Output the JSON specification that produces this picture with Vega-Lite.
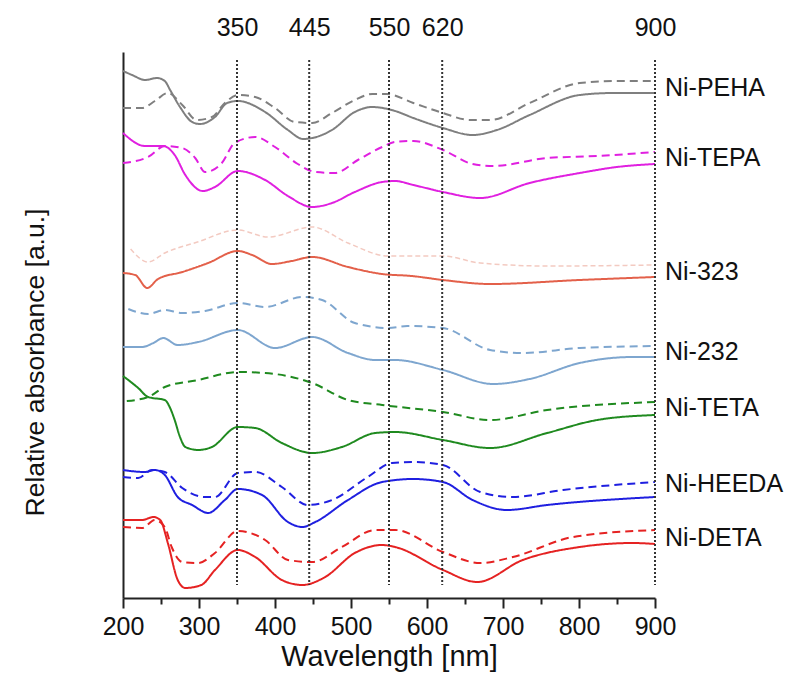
{
"$schema": "https://vega.github.io/schema/vega-lite/v6.json",
"width": 532, "height": 546,
"autosize": {"type": "none"},
"padding": {"left": 123, "top": 52, "right": 144, "bottom": 82},
"background": "white",
"config": {"view": {"stroke": null}, "font": "Liberation Sans"},
"datasets": {
"spectra": [
{"s":"Ni-PEHA","t":"solid","nm":200,"a":5.27},{"s":"Ni-PEHA","t":"solid","nm":212,"a":5.23},{"s":"Ni-PEHA","t":"solid","nm":229,"a":5.18},{"s":"Ni-PEHA","t":"solid","nm":245,"a":5.20},{"s":"Ni-PEHA","t":"solid","nm":255,"a":5.17},{"s":"Ni-PEHA","t":"solid","nm":262,"a":5.08},{"s":"Ni-PEHA","t":"solid","nm":275,"a":4.91},{"s":"Ni-PEHA","t":"solid","nm":291,"a":4.76},{"s":"Ni-PEHA","t":"solid","nm":301,"a":4.74},{"s":"Ni-PEHA","t":"solid","nm":321,"a":4.81},{"s":"Ni-PEHA","t":"solid","nm":337,"a":4.95},{"s":"Ni-PEHA","t":"solid","nm":351,"a":4.97},{"s":"Ni-PEHA","t":"solid","nm":387,"a":4.86},{"s":"Ni-PEHA","t":"solid","nm":417,"a":4.68},{"s":"Ni-PEHA","t":"solid","nm":437,"a":4.59},{"s":"Ni-PEHA","t":"solid","nm":449,"a":4.60},{"s":"Ni-PEHA","t":"solid","nm":475,"a":4.68},{"s":"Ni-PEHA","t":"solid","nm":505,"a":4.86},{"s":"Ni-PEHA","t":"solid","nm":528,"a":4.91},{"s":"Ni-PEHA","t":"solid","nm":558,"a":4.87},{"s":"Ni-PEHA","t":"solid","nm":582,"a":4.80},{"s":"Ni-PEHA","t":"solid","nm":621,"a":4.70},{"s":"Ni-PEHA","t":"solid","nm":660,"a":4.63},{"s":"Ni-PEHA","t":"solid","nm":692,"a":4.68},{"s":"Ni-PEHA","t":"solid","nm":735,"a":4.83},{"s":"Ni-PEHA","t":"solid","nm":801,"a":5.03},{"s":"Ni-PEHA","t":"solid","nm":845,"a":5.05},{"s":"Ni-PEHA","t":"solid","nm":900,"a":5.05},
{"s":"Ni-PEHA","t":"dashed","nm":200,"a":4.90},{"s":"Ni-PEHA","t":"dashed","nm":225,"a":4.90},{"s":"Ni-PEHA","t":"dashed","nm":242,"a":4.97},{"s":"Ni-PEHA","t":"dashed","nm":259,"a":5.05},{"s":"Ni-PEHA","t":"dashed","nm":278,"a":4.93},{"s":"Ni-PEHA","t":"dashed","nm":297,"a":4.78},{"s":"Ni-PEHA","t":"dashed","nm":317,"a":4.81},{"s":"Ni-PEHA","t":"dashed","nm":334,"a":4.95},{"s":"Ni-PEHA","t":"dashed","nm":351,"a":5.03},{"s":"Ni-PEHA","t":"dashed","nm":374,"a":5.01},{"s":"Ni-PEHA","t":"dashed","nm":400,"a":4.90},{"s":"Ni-PEHA","t":"dashed","nm":426,"a":4.76},{"s":"Ni-PEHA","t":"dashed","nm":449,"a":4.75},{"s":"Ni-PEHA","t":"dashed","nm":475,"a":4.85},{"s":"Ni-PEHA","t":"dashed","nm":505,"a":4.98},{"s":"Ni-PEHA","t":"dashed","nm":528,"a":5.04},{"s":"Ni-PEHA","t":"dashed","nm":547,"a":5.04},{"s":"Ni-PEHA","t":"dashed","nm":582,"a":4.95},{"s":"Ni-PEHA","t":"dashed","nm":621,"a":4.85},{"s":"Ni-PEHA","t":"dashed","nm":657,"a":4.78},{"s":"Ni-PEHA","t":"dashed","nm":683,"a":4.78},{"s":"Ni-PEHA","t":"dashed","nm":735,"a":4.95},{"s":"Ni-PEHA","t":"dashed","nm":801,"a":5.15},{"s":"Ni-PEHA","t":"dashed","nm":854,"a":5.17},{"s":"Ni-PEHA","t":"dashed","nm":900,"a":5.17},
{"s":"Ni-TEPA","t":"solid","nm":200,"a":4.65},{"s":"Ni-TEPA","t":"solid","nm":229,"a":4.52},{"s":"Ni-TEPA","t":"solid","nm":253,"a":4.52},{"s":"Ni-TEPA","t":"solid","nm":268,"a":4.43},{"s":"Ni-TEPA","t":"solid","nm":282,"a":4.23},{"s":"Ni-TEPA","t":"solid","nm":305,"a":4.07},{"s":"Ni-TEPA","t":"solid","nm":321,"a":4.11},{"s":"Ni-TEPA","t":"solid","nm":351,"a":4.27},{"s":"Ni-TEPA","t":"solid","nm":387,"a":4.18},{"s":"Ni-TEPA","t":"solid","nm":417,"a":4.02},{"s":"Ni-TEPA","t":"solid","nm":449,"a":3.91},{"s":"Ni-TEPA","t":"solid","nm":475,"a":3.95},{"s":"Ni-TEPA","t":"solid","nm":505,"a":4.06},{"s":"Ni-TEPA","t":"solid","nm":541,"a":4.16},{"s":"Ni-TEPA","t":"solid","nm":558,"a":4.17},{"s":"Ni-TEPA","t":"solid","nm":582,"a":4.13},{"s":"Ni-TEPA","t":"solid","nm":621,"a":4.06},{"s":"Ni-TEPA","t":"solid","nm":670,"a":4.00},{"s":"Ni-TEPA","t":"solid","nm":735,"a":4.15},{"s":"Ni-TEPA","t":"solid","nm":801,"a":4.25},{"s":"Ni-TEPA","t":"solid","nm":850,"a":4.31},{"s":"Ni-TEPA","t":"solid","nm":900,"a":4.34},
{"s":"Ni-TEPA","t":"dashed","nm":200,"a":4.35},{"s":"Ni-TEPA","t":"dashed","nm":233,"a":4.41},{"s":"Ni-TEPA","t":"dashed","nm":255,"a":4.52},{"s":"Ni-TEPA","t":"dashed","nm":278,"a":4.50},{"s":"Ni-TEPA","t":"dashed","nm":295,"a":4.40},{"s":"Ni-TEPA","t":"dashed","nm":308,"a":4.26},{"s":"Ni-TEPA","t":"dashed","nm":330,"a":4.35},{"s":"Ni-TEPA","t":"dashed","nm":347,"a":4.55},{"s":"Ni-TEPA","t":"dashed","nm":374,"a":4.61},{"s":"Ni-TEPA","t":"dashed","nm":400,"a":4.51},{"s":"Ni-TEPA","t":"dashed","nm":430,"a":4.34},{"s":"Ni-TEPA","t":"dashed","nm":453,"a":4.26},{"s":"Ni-TEPA","t":"dashed","nm":479,"a":4.25},{"s":"Ni-TEPA","t":"dashed","nm":509,"a":4.38},{"s":"Ni-TEPA","t":"dashed","nm":541,"a":4.51},{"s":"Ni-TEPA","t":"dashed","nm":558,"a":4.56},{"s":"Ni-TEPA","t":"dashed","nm":582,"a":4.57},{"s":"Ni-TEPA","t":"dashed","nm":621,"a":4.48},{"s":"Ni-TEPA","t":"dashed","nm":660,"a":4.34},{"s":"Ni-TEPA","t":"dashed","nm":687,"a":4.32},{"s":"Ni-TEPA","t":"dashed","nm":758,"a":4.40},{"s":"Ni-TEPA","t":"dashed","nm":824,"a":4.42},{"s":"Ni-TEPA","t":"dashed","nm":900,"a":4.46},
{"s":"Ni-323","t":"solid","nm":200,"a":3.25},{"s":"Ni-323","t":"solid","nm":216,"a":3.23},{"s":"Ni-323","t":"solid","nm":232,"a":3.10},{"s":"Ni-323","t":"solid","nm":246,"a":3.19},{"s":"Ni-323","t":"solid","nm":278,"a":3.26},{"s":"Ni-323","t":"solid","nm":312,"a":3.35},{"s":"Ni-323","t":"solid","nm":351,"a":3.47},{"s":"Ni-323","t":"solid","nm":370,"a":3.43},{"s":"Ni-323","t":"solid","nm":396,"a":3.34},{"s":"Ni-323","t":"solid","nm":422,"a":3.37},{"s":"Ni-323","t":"solid","nm":449,"a":3.41},{"s":"Ni-323","t":"solid","nm":496,"a":3.31},{"s":"Ni-323","t":"solid","nm":541,"a":3.24},{"s":"Ni-323","t":"solid","nm":580,"a":3.22},{"s":"Ni-323","t":"solid","nm":621,"a":3.18},{"s":"Ni-323","t":"solid","nm":683,"a":3.14},{"s":"Ni-323","t":"solid","nm":801,"a":3.18},{"s":"Ni-323","t":"solid","nm":900,"a":3.21},
{"s":"Ni-323","t":"dashed","nm":210,"a":3.49},{"s":"Ni-323","t":"dashed","nm":233,"a":3.36},{"s":"Ni-323","t":"dashed","nm":255,"a":3.45},{"s":"Ni-323","t":"dashed","nm":298,"a":3.56},{"s":"Ni-323","t":"dashed","nm":351,"a":3.68},{"s":"Ni-323","t":"dashed","nm":391,"a":3.61},{"s":"Ni-323","t":"dashed","nm":449,"a":3.71},{"s":"Ni-323","t":"dashed","nm":496,"a":3.55},{"s":"Ni-323","t":"dashed","nm":549,"a":3.42},{"s":"Ni-323","t":"dashed","nm":621,"a":3.42},{"s":"Ni-323","t":"dashed","nm":670,"a":3.35},{"s":"Ni-323","t":"dashed","nm":758,"a":3.32},{"s":"Ni-323","t":"dashed","nm":900,"a":3.33},
{"s":"Ni-232","t":"solid","nm":200,"a":2.51},{"s":"Ni-232","t":"solid","nm":225,"a":2.51},{"s":"Ni-232","t":"solid","nm":240,"a":2.55},{"s":"Ni-232","t":"solid","nm":253,"a":2.60},{"s":"Ni-232","t":"solid","nm":272,"a":2.53},{"s":"Ni-232","t":"solid","nm":299,"a":2.56},{"s":"Ni-232","t":"solid","nm":351,"a":2.68},{"s":"Ni-232","t":"solid","nm":400,"a":2.50},{"s":"Ni-232","t":"solid","nm":449,"a":2.61},{"s":"Ni-232","t":"solid","nm":496,"a":2.45},{"s":"Ni-232","t":"solid","nm":532,"a":2.38},{"s":"Ni-232","t":"solid","nm":558,"a":2.38},{"s":"Ni-232","t":"solid","nm":621,"a":2.28},{"s":"Ni-232","t":"solid","nm":687,"a":2.14},{"s":"Ni-232","t":"solid","nm":735,"a":2.19},{"s":"Ni-232","t":"solid","nm":801,"a":2.35},{"s":"Ni-232","t":"solid","nm":871,"a":2.41},{"s":"Ni-232","t":"solid","nm":900,"a":2.41},
{"s":"Ni-232","t":"dashed","nm":207,"a":2.89},{"s":"Ni-232","t":"dashed","nm":233,"a":2.84},{"s":"Ni-232","t":"dashed","nm":255,"a":2.88},{"s":"Ni-232","t":"dashed","nm":278,"a":2.85},{"s":"Ni-232","t":"dashed","nm":308,"a":2.87},{"s":"Ni-232","t":"dashed","nm":351,"a":2.95},{"s":"Ni-232","t":"dashed","nm":387,"a":2.91},{"s":"Ni-232","t":"dashed","nm":436,"a":3.01},{"s":"Ni-232","t":"dashed","nm":462,"a":2.98},{"s":"Ni-232","t":"dashed","nm":505,"a":2.75},{"s":"Ni-232","t":"dashed","nm":549,"a":2.70},{"s":"Ni-232","t":"dashed","nm":574,"a":2.72},{"s":"Ni-232","t":"dashed","nm":621,"a":2.70},{"s":"Ni-232","t":"dashed","nm":683,"a":2.48},{"s":"Ni-232","t":"dashed","nm":726,"a":2.45},{"s":"Ni-232","t":"dashed","nm":801,"a":2.50},{"s":"Ni-232","t":"dashed","nm":900,"a":2.52},
{"s":"Ni-TETA","t":"solid","nm":200,"a":2.22},{"s":"Ni-TETA","t":"solid","nm":220,"a":2.10},{"s":"Ni-TETA","t":"solid","nm":233,"a":2.01},{"s":"Ni-TETA","t":"solid","nm":255,"a":1.98},{"s":"Ni-TETA","t":"solid","nm":262,"a":1.90},{"s":"Ni-TETA","t":"solid","nm":268,"a":1.78},{"s":"Ni-TETA","t":"solid","nm":275,"a":1.61},{"s":"Ni-TETA","t":"solid","nm":282,"a":1.51},{"s":"Ni-TETA","t":"solid","nm":299,"a":1.48},{"s":"Ni-TETA","t":"solid","nm":317,"a":1.51},{"s":"Ni-TETA","t":"solid","nm":351,"a":1.71},{"s":"Ni-TETA","t":"solid","nm":374,"a":1.70},{"s":"Ni-TETA","t":"solid","nm":409,"a":1.55},{"s":"Ni-TETA","t":"solid","nm":449,"a":1.45},{"s":"Ni-TETA","t":"solid","nm":488,"a":1.51},{"s":"Ni-TETA","t":"solid","nm":532,"a":1.65},{"s":"Ni-TETA","t":"solid","nm":558,"a":1.66},{"s":"Ni-TETA","t":"solid","nm":621,"a":1.58},{"s":"Ni-TETA","t":"solid","nm":683,"a":1.50},{"s":"Ni-TETA","t":"solid","nm":758,"a":1.65},{"s":"Ni-TETA","t":"solid","nm":824,"a":1.78},{"s":"Ni-TETA","t":"solid","nm":900,"a":1.83},
{"s":"Ni-TETA","t":"dashed","nm":205,"a":1.97},{"s":"Ni-TETA","t":"dashed","nm":233,"a":2.01},{"s":"Ni-TETA","t":"dashed","nm":255,"a":2.11},{"s":"Ni-TETA","t":"dashed","nm":299,"a":2.18},{"s":"Ni-TETA","t":"dashed","nm":351,"a":2.26},{"s":"Ni-TETA","t":"dashed","nm":387,"a":2.25},{"s":"Ni-TETA","t":"dashed","nm":449,"a":2.15},{"s":"Ni-TETA","t":"dashed","nm":496,"a":1.98},{"s":"Ni-TETA","t":"dashed","nm":541,"a":1.93},{"s":"Ni-TETA","t":"dashed","nm":621,"a":1.86},{"s":"Ni-TETA","t":"dashed","nm":683,"a":1.78},{"s":"Ni-TETA","t":"dashed","nm":758,"a":1.88},{"s":"Ni-TETA","t":"dashed","nm":900,"a":1.96},
{"s":"Ni-HEEDA","t":"solid","nm":200,"a":1.28},{"s":"Ni-HEEDA","t":"solid","nm":229,"a":1.26},{"s":"Ni-HEEDA","t":"solid","nm":242,"a":1.28},{"s":"Ni-HEEDA","t":"solid","nm":255,"a":1.23},{"s":"Ni-HEEDA","t":"solid","nm":272,"a":1.01},{"s":"Ni-HEEDA","t":"solid","nm":291,"a":0.93},{"s":"Ni-HEEDA","t":"solid","nm":312,"a":0.85},{"s":"Ni-HEEDA","t":"solid","nm":334,"a":0.98},{"s":"Ni-HEEDA","t":"solid","nm":351,"a":1.09},{"s":"Ni-HEEDA","t":"solid","nm":383,"a":1.03},{"s":"Ni-HEEDA","t":"solid","nm":417,"a":0.76},{"s":"Ni-HEEDA","t":"solid","nm":436,"a":0.71},{"s":"Ni-HEEDA","t":"solid","nm":453,"a":0.76},{"s":"Ni-HEEDA","t":"solid","nm":496,"a":0.98},{"s":"Ni-HEEDA","t":"solid","nm":541,"a":1.16},{"s":"Ni-HEEDA","t":"solid","nm":582,"a":1.19},{"s":"Ni-HEEDA","t":"solid","nm":621,"a":1.16},{"s":"Ni-HEEDA","t":"solid","nm":660,"a":0.98},{"s":"Ni-HEEDA","t":"solid","nm":705,"a":0.88},{"s":"Ni-HEEDA","t":"solid","nm":758,"a":0.93},{"s":"Ni-HEEDA","t":"solid","nm":900,"a":1.01},
{"s":"Ni-HEEDA","t":"dashed","nm":200,"a":1.21},{"s":"Ni-HEEDA","t":"dashed","nm":220,"a":1.20},{"s":"Ni-HEEDA","t":"dashed","nm":238,"a":1.28},{"s":"Ni-HEEDA","t":"dashed","nm":255,"a":1.26},{"s":"Ni-HEEDA","t":"dashed","nm":278,"a":1.10},{"s":"Ni-HEEDA","t":"dashed","nm":308,"a":1.01},{"s":"Ni-HEEDA","t":"dashed","nm":321,"a":1.01},{"s":"Ni-HEEDA","t":"dashed","nm":351,"a":1.25},{"s":"Ni-HEEDA","t":"dashed","nm":374,"a":1.26},{"s":"Ni-HEEDA","t":"dashed","nm":409,"a":1.11},{"s":"Ni-HEEDA","t":"dashed","nm":443,"a":0.93},{"s":"Ni-HEEDA","t":"dashed","nm":475,"a":0.98},{"s":"Ni-HEEDA","t":"dashed","nm":522,"a":1.21},{"s":"Ni-HEEDA","t":"dashed","nm":554,"a":1.35},{"s":"Ni-HEEDA","t":"dashed","nm":582,"a":1.36},{"s":"Ni-HEEDA","t":"dashed","nm":621,"a":1.33},{"s":"Ni-HEEDA","t":"dashed","nm":670,"a":1.06},{"s":"Ni-HEEDA","t":"dashed","nm":713,"a":1.01},{"s":"Ni-HEEDA","t":"dashed","nm":779,"a":1.08},{"s":"Ni-HEEDA","t":"dashed","nm":900,"a":1.16},
{"s":"Ni-DETA","t":"solid","nm":200,"a":0.78},{"s":"Ni-DETA","t":"solid","nm":225,"a":0.78},{"s":"Ni-DETA","t":"solid","nm":240,"a":0.81},{"s":"Ni-DETA","t":"solid","nm":249,"a":0.78},{"s":"Ni-DETA","t":"solid","nm":259,"a":0.55},{"s":"Ni-DETA","t":"solid","nm":272,"a":0.18},{"s":"Ni-DETA","t":"solid","nm":282,"a":0.10},{"s":"Ni-DETA","t":"solid","nm":303,"a":0.13},{"s":"Ni-DETA","t":"solid","nm":321,"a":0.28},{"s":"Ni-DETA","t":"solid","nm":351,"a":0.48},{"s":"Ni-DETA","t":"solid","nm":374,"a":0.41},{"s":"Ni-DETA","t":"solid","nm":409,"a":0.18},{"s":"Ni-DETA","t":"solid","nm":436,"a":0.13},{"s":"Ni-DETA","t":"solid","nm":466,"a":0.21},{"s":"Ni-DETA","t":"solid","nm":505,"a":0.45},{"s":"Ni-DETA","t":"solid","nm":541,"a":0.53},{"s":"Ni-DETA","t":"solid","nm":558,"a":0.51},{"s":"Ni-DETA","t":"solid","nm":621,"a":0.28},{"s":"Ni-DETA","t":"solid","nm":666,"a":0.16},{"s":"Ni-DETA","t":"solid","nm":726,"a":0.38},{"s":"Ni-DETA","t":"solid","nm":801,"a":0.51},{"s":"Ni-DETA","t":"solid","nm":871,"a":0.55},{"s":"Ni-DETA","t":"solid","nm":900,"a":0.54},
{"s":"Ni-DETA","t":"dashed","nm":200,"a":0.71},{"s":"Ni-DETA","t":"dashed","nm":225,"a":0.70},{"s":"Ni-DETA","t":"dashed","nm":242,"a":0.78},{"s":"Ni-DETA","t":"dashed","nm":255,"a":0.71},{"s":"Ni-DETA","t":"dashed","nm":264,"a":0.51},{"s":"Ni-DETA","t":"dashed","nm":278,"a":0.36},{"s":"Ni-DETA","t":"dashed","nm":299,"a":0.35},{"s":"Ni-DETA","t":"dashed","nm":321,"a":0.45},{"s":"Ni-DETA","t":"dashed","nm":351,"a":0.67},{"s":"Ni-DETA","t":"dashed","nm":387,"a":0.58},{"s":"Ni-DETA","t":"dashed","nm":417,"a":0.38},{"s":"Ni-DETA","t":"dashed","nm":449,"a":0.36},{"s":"Ni-DETA","t":"dashed","nm":488,"a":0.51},{"s":"Ni-DETA","t":"dashed","nm":532,"a":0.68},{"s":"Ni-DETA","t":"dashed","nm":558,"a":0.68},{"s":"Ni-DETA","t":"dashed","nm":621,"a":0.46},{"s":"Ni-DETA","t":"dashed","nm":670,"a":0.35},{"s":"Ni-DETA","t":"dashed","nm":713,"a":0.41},{"s":"Ni-DETA","t":"dashed","nm":792,"a":0.61},{"s":"Ni-DETA","t":"dashed","nm":900,"a":0.68}
],
"labels": [
{"label":"Ni-PEHA","x":900,"y":5.10},{"label":"Ni-TEPA","x":900,"y":4.40},{"label":"Ni-323","x":900,"y":3.26},{"label":"Ni-232","x":900,"y":2.46},{"label":"Ni-TETA","x":900,"y":1.90},{"label":"Ni-HEEDA","x":900,"y":1.14},{"label":"Ni-DETA","x":900,"y":0.60}
],
"peaks": [{"v":350},{"v":445},{"v":550},{"v":620},{"v":900}]
},
"layer": [
{
"data": {"name": "spectra"},
"transform": [{"filter": "!(datum.s === 'Ni-323' && datum.t === 'dashed')"}],
"mark": {"type": "line", "interpolate": "monotone", "strokeWidth": 2},
"encoding": {
"x": {"field": "nm", "type": "quantitative", "scale": {"domain": [200, 900], "nice": false, "zero": false},
"axis": {"orient": "bottom", "values": [200,250,300,350,400,450,500,550,600,650,700,750,800,850,900],
"labelExpr": "datum.value % 100 === 0 ? datum.label : ''",
"tickSize": {"condition": {"test": "datum.value % 100 === 0", "value": 10}, "value": 6},
"tickColor": "#222", "tickWidth": 2, "domainColor": "#222", "domainWidth": 2, "grid": false,
"labelFontSize": 25, "labelColor": "#111", "labelPadding": 6, "labelOverlap": false, "labelFlush": false, "labelBound": false,
"title": "Wavelength [nm]", "titleFontSize": 29, "titleFontWeight": "normal", "titleColor": "#111", "titlePadding": 3}},
"y": {"field": "a", "type": "quantitative", "scale": {"domain": [0, 5.46], "nice": false, "zero": false},
"axis": {"title": "Relative absorbance [a.u.]", "labels": false, "ticks": false, "grid": false,
"domainColor": "#222", "domainWidth": 2, "titleFontSize": 26.5, "titleFontWeight": "normal", "titleColor": "#111",
"titleX": -88, "titleY": 310, "titleAlign": "center", "titleBaseline": "middle", "titleAngle": -90}},
"color": {"field": "s", "type": "nominal", "legend": null,
"scale": {"domain": ["Ni-PEHA","Ni-TEPA","Ni-323","Ni-232","Ni-TETA","Ni-HEEDA","Ni-DETA"],
"range": ["#7f7f7f","#e020e0","#e3604a","#7ea6cf","#1f8a1f","#1f1fe0","#e52222"]}},
"strokeDash": {"field": "t", "type": "nominal", "legend": null,
"scale": {"domain": ["solid","dashed"], "range": [[1,0],[8,5]]}}
}
},
{
"data": {"name": "spectra"},
"transform": [{"filter": "datum.s === 'Ni-323' && datum.t === 'dashed'"}],
"mark": {"type": "line", "interpolate": "monotone", "strokeWidth": 1.5, "color": "#f3cac1", "strokeDash": [5, 3]},
"encoding": {
"x": {"field": "nm", "type": "quantitative", "axis": null},
"y": {"field": "a", "type": "quantitative", "axis": null}
}
},
{
"data": {"name": "peaks"},
"mark": {"type": "rule", "color": "#333", "strokeWidth": 2, "strokeDash": [2, 2]},
"encoding": {
"x": {"field": "v", "type": "quantitative",
"axis": {"orient": "top", "values": [350,445,550,620,900], "domain": false, "ticks": false, "grid": false,
"labelFontSize": 25, "labelColor": "#111", "labelPadding": 12, "labelFlush": false, "labelOverlap": false, "title": null}},
"y": {"datum": 5.38, "axis": null},
"y2": {"datum": 0.13}
}
},
{
"data": {"name": "labels"},
"mark": {"type": "text", "align": "left", "baseline": "middle", "dx": 10, "fontSize": 25, "color": "#111"},
"encoding": {
"x": {"field": "x", "type": "quantitative", "axis": null},
"y": {"field": "y", "type": "quantitative", "axis": null},
"text": {"field": "label"}
}
}
],
"resolve": {"axis": {"x": "independent", "y": "independent"}}
}
